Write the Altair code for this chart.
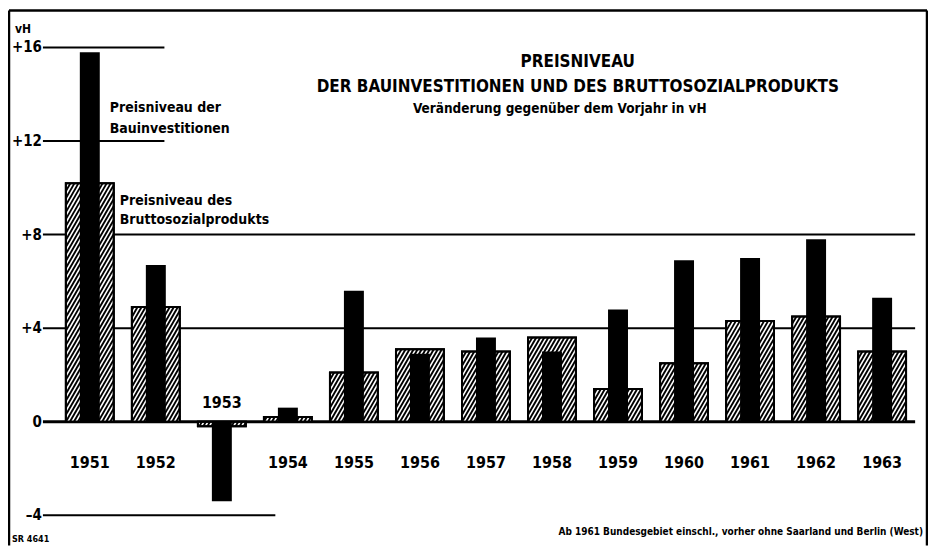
import altair as alt
import numpy as np
import pandas as pd

# ---------------- data ----------------
years = [1951, 1952, 1953, 1954, 1955, 1956, 1957, 1958, 1959, 1960, 1961, 1962, 1963]
bauinvestitionen = [15.8, 6.7, -3.4, 0.6, 5.6, 2.9, 3.6, 3.0, 4.8, 6.9, 7.0, 7.8, 5.3]
bruttosozialprodukt = [10.2, 4.9, -0.2, 0.2, 2.1, 3.1, 3.0, 3.6, 1.4, 2.5, 4.3, 4.5, 3.0]
tick_values = [16, 12, 8, 4, 0, -4]
tick_labels = ["+16", "+12", "+8", "+4", "0", "\u20134"]

# ---------------- layout ----------------
W, H = 922, 538
X_DOM = [1949.761, 1963.695]
Y_DOM = [-5.2907, 17.664]
px_per_year = W / (X_DOM[1] - X_DOM[0])
px_per_unit = H / (Y_DOM[1] - Y_DOM[0])
HATCH_HALF = 24 / px_per_year
BLACK_HALF = 10 / px_per_year
grid_start = 1950.29
grid_end = [1952.13, 1952.13, 1963.5, 1963.5, 1963.5, 1953.81]
grid_width = [2, 2, 2, 2, 3, 2]

FONT = "Liberation Sans Narrow, DejaVu Sans Condensed, Arial Narrow, sans-serif"

xs = alt.Scale(domain=X_DOM, nice=False, zero=False)
ys = alt.Scale(domain=Y_DOM, nice=False, zero=False)

bars = pd.DataFrame({"year": years, "bau": bauinvestitionen, "bsp": bruttosozialprodukt})
bars["hl"] = bars["year"] - HATCH_HALF
bars["hr"] = bars["year"] + HATCH_HALF
bars["bl"] = bars["year"] - BLACK_HALF
bars["br"] = bars["year"] + BLACK_HALF
bars["zero"] = 0.0

grid = pd.DataFrame({"v": tick_values, "x0": grid_start, "x1": grid_end, "w": grid_width,
                     "lab": tick_labels})


def hatch_segments(yrs, vals, hw, angle_deg, step_px):
    slope = np.tan(np.radians(angle_deg)) * px_per_year / px_per_unit
    step = step_px / px_per_unit
    rows = []
    for yr, v in zip(yrs, vals):
        lo, hi = min(0.0, v), max(0.0, v)
        xl, w = yr - hw, 2 * hw
        k0 = int(np.floor((lo - slope * w) / step)) - 1
        k1 = int(np.ceil(hi / step)) + 1
        for k in range(k0, k1 + 1):
            c = k * step
            s0 = max(0.0, (lo - c) / slope)
            s1 = min(w, (hi - c) / slope)
            if s1 > s0 + 1e-6:
                rows.append({"hx": xl + s0, "hx2": xl + s1, "hy": c + slope * s0, "hy2": c + slope * s1})
    return pd.DataFrame(rows)


hatch = hatch_segments(years, bruttosozialprodukt, HATCH_HALF, 60, 7.0)

X = lambda f: alt.X(f, type="quantitative", scale=xs, axis=None)
Y = lambda f: alt.Y(f, type="quantitative", scale=ys, axis=None)

grid_layer = alt.Chart(grid).mark_rule(color="black").encode(
    x=X("x0"), x2="x1", y=Y("v"), strokeWidth=alt.StrokeWidth("w:Q", scale=None))

hatch_bg = alt.Chart(bars).mark_rect(fill="white", stroke="black", strokeWidth=2).encode(
    x=X("hl"), x2="hr", y=Y("zero"), y2="bsp")

hatch_lines = alt.Chart(hatch).mark_rule(color="black", strokeWidth=1.9).encode(
    x=X("hx"), x2="hx2", y=Y("hy"), y2="hy2")

hatch_outline = alt.Chart(bars).mark_rect(fillOpacity=0, stroke="black", strokeWidth=2).encode(
    x=X("hl"), x2="hr", y=Y("zero"), y2="bsp")

black_bars = alt.Chart(bars).mark_rect(fill="black").encode(
    x=X("bl"), x2="br", y=Y("zero"), y2="bau")

tick_text = alt.Chart(grid).mark_text(align="right", baseline="middle", font=FONT,
                                      fontWeight="bold", fontSize=15).encode(
    x=alt.value(34), y=Y("v"), text="lab:N")

year_df = pd.DataFrame({"year": years, "lab": [str(y) for y in years]})
year_text = alt.Chart(year_df).transform_filter("datum.year != 1953").mark_text(
    baseline="middle", font=FONT, fontWeight="bold", fontSize=16).encode(
    x=X("year"), y=alt.value(455), text="lab:N")
year_1953 = alt.Chart(year_df).transform_filter("datum.year == 1953").mark_text(
    baseline="middle", font=FONT, fontWeight="bold", fontSize=16).encode(
    x=X("year"), y=alt.value(395), text="lab:N")


def label(text, x, y, size, align="left", weight="bold"):
    return alt.Chart(pd.DataFrame({"t": [text]})).mark_text(
        align=align, baseline="middle", font=FONT, fontWeight=weight, fontSize=size,
        color="black").encode(x=alt.value(x), y=alt.value(y), text="t:N")


texts = [
    label("vH", 7, 20, 12),
    label("PREISNIVEAU", 571, 54, 17, "center"),
    label("DER BAUINVESTITIONEN UND DES BRUTTOSOZIALPRODUKTS", 571, 79, 17, "center"),
    label("Veränderung gegenüber dem Vorjahr in vH", 553, 101, 13.5, "center"),
    label("Preisniveau der", 102, 100, 14),
    label("Bauinvestitionen", 102, 121, 14),
    label("Preisniveau des", 112, 193, 14),
    label("Bruttosozialprodukts", 112, 212, 14),
    label("Ab 1961 Bundesgebiet einschl., vorher ohne Saarland und Berlin (West)", 917, 525, 10, "right"),
    label("SR 4641", 4, 532, 9),
]

border = [
    alt.Chart(pd.DataFrame({"a": [0]})).mark_rule(color="black", strokeWidth=2.5).encode(
        x=alt.value(1), x2=alt.value(W - 1), y=alt.value(2)),
    alt.Chart(pd.DataFrame({"a": [0]})).mark_rule(color="black", strokeWidth=2.5).encode(
        x=alt.value(1), y=alt.value(2), y2=alt.value(H)),
    alt.Chart(pd.DataFrame({"a": [0]})).mark_rule(color="black", strokeWidth=2.5).encode(
        x=alt.value(W - 1), y=alt.value(2), y2=alt.value(H)),
]

chart = alt.layer(
    grid_layer, hatch_bg, hatch_lines, hatch_outline, black_bars,
    tick_text, year_text, year_1953, *texts, *border
).properties(
    width=W, height=H, padding=0, autosize=alt.AutoSizeParams(type="none"), background="white"
).configure_view(stroke=None)

chart.save("out.html", embed_options={"renderer": "svg", "actions": False})
